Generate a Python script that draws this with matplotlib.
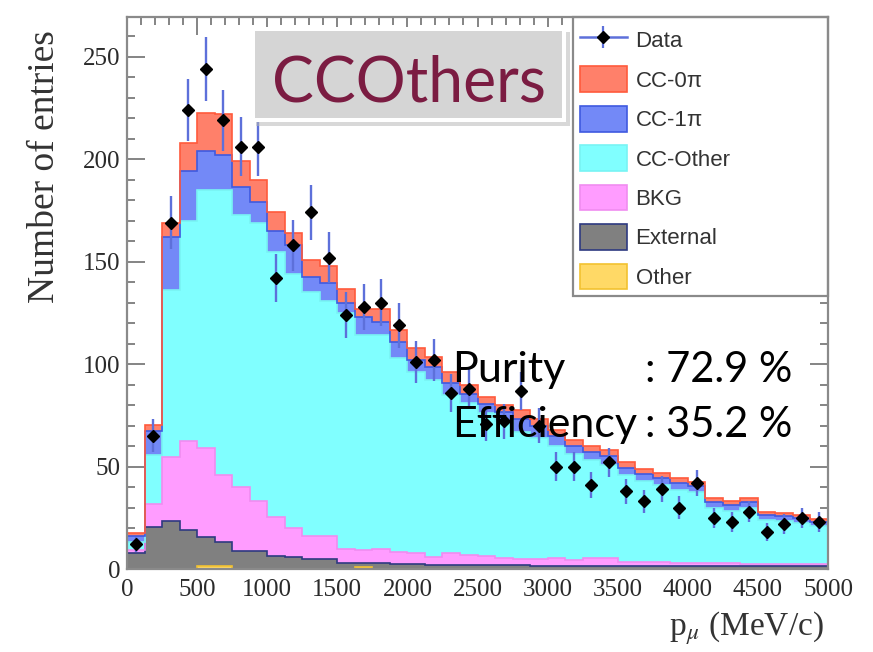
import numpy as np
import matplotlib
matplotlib.use("Agg")
import matplotlib.pyplot as plt
from matplotlib.patches import Rectangle, Patch
from matplotlib.lines import Line2D
from matplotlib.ticker import MultipleLocator

plt.rcParams["mathtext.fontset"] = "stix"

# Muon momentum binning (MeV/c)
bin_edges = np.arange(0, 5001, 125)

# Stacked MC components, entries per bin (bottom to top of the stack)
other = [0, 0, 0, 0, 1.5, 1.5, 0, 0, 0, 0,
         0, 0, 0, 1, 0, 0, 0, 0, 0, 0,
         0, 0, 0, 0, 0, 0, 0, 0, 0, 0,
         0, 0, 0, 0, 0, 0, 0, 0, 0, 0]
external = [8, 20.5, 23.5, 19, 14, 11.5, 9, 9, 6.5, 6,
            5, 5, 3, 2, 3, 2.5, 2.5, 2, 2, 2,
            2, 2, 2, 1.5, 1.5, 1.5, 1.5, 1.5, 1.5, 1.5,
            1.5, 1.5, 1.5, 1.5, 1.5, 1.5, 1.5, 1.5, 1.5, 1.5]
bkg = [1.5, 11, 31, 43.5, 43.5, 33, 31, 24, 19, 14,
       11, 11, 7, 6.5, 7, 6, 5.5, 4, 6, 5,
       4.5, 3.5, 3, 3.5, 4, 3, 4, 4, 2, 2,
       2, 1.5, 1.5, 1.5, 1.5, 1, 1, 1, 1, 0.8]
cc_other = [3.5, 24, 81.5, 107.5, 126, 139, 133, 136, 129, 124,
            119, 115, 115, 104.5, 104, 94.5, 88, 86, 77, 74,
            69.5, 66.5, 62, 59, 54.5, 51.5, 47.5, 45.5, 42.5, 39.5,
            37.5, 35.5, 34.5, 27, 25.5, 27.5, 21.5, 21, 20, 18.7]
cc_1pi = [3, 12, 26, 24, 19, 17, 13.5, 10, 10.5, 14,
          7.5, 8.5, 5, 9, 6.5, 8, 6, 6.5, 6, 4.5,
          4.5, 4.5, 6, 6, 5, 4, 4, 4, 3.5, 3.5,
          3.5, 3.5, 3, 2.5, 2.5, 2.5, 2.3, 2.3, 2.3, 2]
cc_0pi = [1.5, 3, 7, 14, 18.5, 20, 12.5, 11, 9, 6,
          8.5, 8.5, 6.5, 4, 6.5, 5.5, 6, 5, 5, 4.5,
          3.5, 3.5, 4.5, 3, 3, 3, 3, 3, 2.5, 2.5,
          2.5, 2.5, 2, 2, 2, 2, 1.7, 1.5, 1.5, 1.3]

# Observed events per bin
data_counts = [12, 65, 169, 224, 244, 219, 206, 206, 142, 158,
               174, 152, 124, 128, 130, 119, 101, 102, 86, 88,
               71, 72, 87, 70, 50, 50, 41, 52, 38, 33,
               39, 30, 42, 25, 23, 28, 18, 22, 25, 23]

labels = ["Data", "CC-0\u03c0", "CC-1\u03c0", "CC-Other", "BKG", "External", "Other"]

purity_text = ("Purity", ": 72.9 %")
efficiency_text = ("Efficiency", ": 35.2 %")
title_text = "CCOthers"

# (component, fill colour, top-edge colour)
stack = [
    (other, "#FFD966", "#F2C230"),
    (external, "#808080", "#2E3A80"),
    (bkg, "#FF9CFF", "#F08CF0"),
    (cc_other, "#80FFFF", "#78F4F4"),
    (cc_1pi, "#7389F7", "#3F5AE0"),
    (cc_0pi, "#FF806A", "#FF5A3C"),
]

W, H = 873, 652
fig = plt.figure(figsize=(W / 100, H / 100), dpi=100)
ax = fig.add_axes([127 / W, 1 - 569 / H, 701 / W, 552 / H])

edges = np.asarray(bin_edges, dtype=float)
base = np.zeros(len(edges) - 1)
for values, fc, ec in stack:
    top = base + np.asarray(values, dtype=float)
    ax.stairs(top, edges, baseline=base, fill=True, color=fc, lw=0, zorder=2)
    ax.stairs(top, edges, baseline=None, color=ec, lw=1.2, zorder=2.5)
    base = top

centers = 0.5 * (edges[:-1] + edges[1:])
counts = np.asarray(data_counts, dtype=float)
err_color = "#5D70DA"
ax.errorbar(centers, counts, yerr=np.sqrt(counts), fmt="D", ms=6.5,
            mfc="black", mec="black", ecolor=err_color, elinewidth=1.7,
            capsize=0, zorder=5)

ax.set_xlim(0, 5000)
ax.set_ylim(0, 269.4)
ax.xaxis.set_major_locator(MultipleLocator(500))
ax.xaxis.set_minor_locator(MultipleLocator(100))
ax.yaxis.set_major_locator(MultipleLocator(50))
ax.yaxis.set_minor_locator(MultipleLocator(10))
ax.tick_params(which="both", direction="in", top=True, right=True,
               color="#707070", width=1.2)
ax.tick_params(which="major", length=13)
ax.tick_params(which="minor", length=6)
ax.tick_params(axis="x", which="major", labelsize=18, pad=7, labelcolor="#2a2a2a")
ax.tick_params(axis="y", which="major", labelsize=18, pad=5, labelcolor="#2a2a2a")
for lab in ax.get_xticklabels() + ax.get_yticklabels():
    lab.set_family("Liberation Serif")
for sp in ax.spines.values():
    sp.set_color("#8A8A8A")
    sp.set_linewidth(1.6)
    sp.set_zorder(6)

# Legend panel
x0 = (573 - 127) / 701
y0 = (569 - 296) / 552
ax.add_patch(Rectangle((x0, y0), 1 - x0, 1 - y0, transform=ax.transAxes,
                       fc="white", ec="#8A8A8A", lw=1.6, zorder=6, clip_on=False))
data_handle = (
    Line2D([], [], color=err_color, lw=1.8),
    Line2D([], [], color=err_color, marker="|", ms=16, mew=1.6, ls=""),
    Line2D([], [], color="black", marker="D", ms=6.5, ls=""),
)
handles = [data_handle] + [
    Patch(facecolor=fc, edgecolor=ec, lw=1.2)
    for _, fc, ec in [stack[5], stack[4], stack[3], stack[2], stack[1], stack[0]]
]
leg = ax.legend(handles, labels, loc="upper left",
                bbox_to_anchor=((570 - 127) / 701, 1.0),
                frameon=False, prop={"family": "Liberation Sans", "size": 16},
                handlelength=2.1, handleheight=1.4, labelspacing=0.62,
                handletextpad=0.4, borderpad=0.45, borderaxespad=0)
leg.set_zorder(7)
for t in leg.get_texts():
    t.set_color("#333333")

# Axis titles
fig.text(45 / W, 1 - 30 / H, "Number of entries", rotation=90, va="top",
         ha="center", fontsize=27, family="Liberation Serif", color="#333333")
fig.text(824 / W, 1 - 628 / H, r"p$_{\mu}$ (MeV/c)", va="center", ha="right",
         fontsize=24, family="Liberation Serif", color="#333333")

# Overlay in pixel coordinates for the annotation boxes
ov = fig.add_axes([0, 0, 1, 1], zorder=10)
ov.set_xlim(0, W)
ov.set_ylim(H, 0)
ov.axis("off")
ov.add_patch(Rectangle((256, 32), 314, 94, fc="#B8B8B8", ec="none", alpha=0.55))
ov.add_patch(Rectangle((251, 27), 315, 95, fc="white", ec="none"))
ov.add_patch(Rectangle((255, 31), 307, 87, fc="#D5D5D5", ec="none"))
ov.text(272, 102, title_text, family="Lato", fontsize=45, color="#7B1C42",
        va="baseline", ha="left")

for (name, value), baseline in [(purity_text, 382), (efficiency_text, 437)]:
    ov.text(452, baseline, name, family="Lato", fontsize=31, color="black",
            va="baseline", ha="left")
    ov.text(645, baseline, value, family="Lato", fontsize=30, color="black",
            va="baseline", ha="left")

fig.savefig("out.png", dpi=100)
